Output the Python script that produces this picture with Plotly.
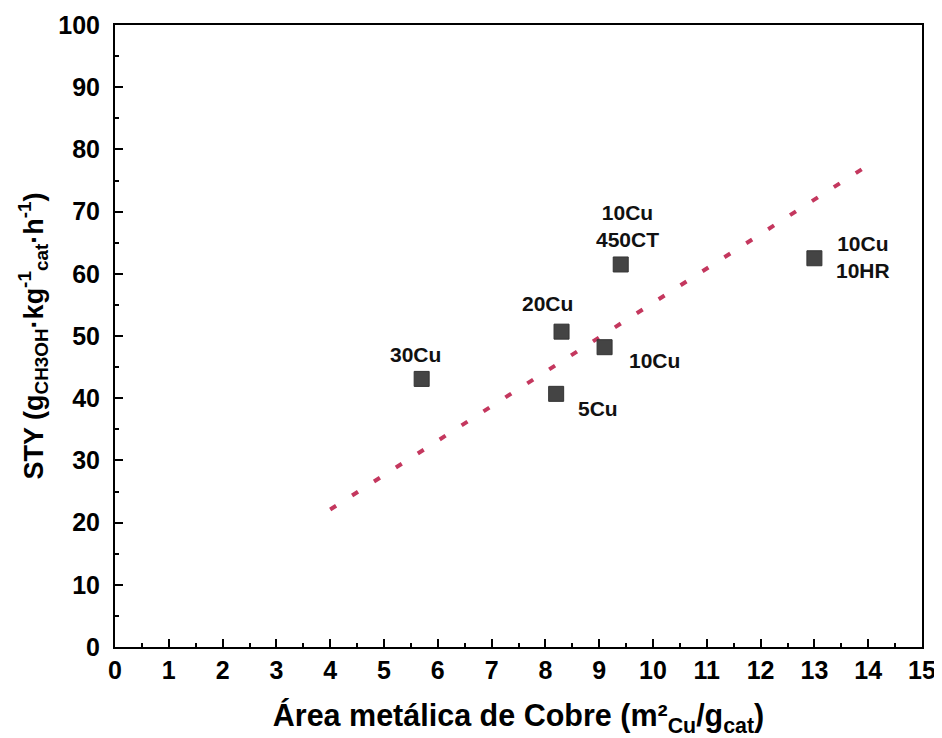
import plotly.graph_objects as go

# Data
samples = ["30Cu", "5Cu", "20Cu", "10Cu", "10Cu<br>450CT", "10Cu<br>10HR"]
cu_area = [5.7, 8.2, 8.3, 9.1, 9.4, 13.0]
sty = [43.1, 40.7, 50.7, 48.2, 61.5, 62.5]
# label offsets (pixels) relative to each point
label_dx = [-6, 42, -14, 50, 7, 49]
label_dy = [-24, 15, -28, 13, -38, -1]

trend_x = [4.0, 13.88]
trend_y = [22.1, 76.8]

x_ticks = list(range(0, 16))
y_ticks = list(range(0, 101, 10))

FONT = "Liberation Sans"

fig = go.Figure()
fig.add_trace(go.Scatter(
    x=trend_x, y=trend_y, mode="lines",
    line=dict(color="#C4375E", width=4, dash="7px,19px"),
    hoverinfo="skip", showlegend=False))
fig.add_trace(go.Scatter(
    x=cu_area, y=sty, mode="markers",
    marker=dict(symbol="square", size=15, color="#444444",
                line=dict(color="#333333", width=1)),
    showlegend=False))

for s, x, y, dx, dy in zip(samples, cu_area, sty, label_dx, label_dy):
    fig.add_annotation(x=x, y=y, text=s, showarrow=False,
                       xshift=dx, yshift=-dy,
                       font=dict(family=FONT, size=21, color="#111111", weight="bold"),
                       align="center")

axis_common = dict(
    showline=True, linecolor="black", linewidth=2, mirror=True,
    ticks="inside", ticklen=8, tickwidth=2, tickcolor="black",
    showgrid=False, zeroline=False, automargin=False,
    tickfont=dict(family=FONT, size=25, color="black", weight="bold"),
)

fig.update_xaxes(
    range=[0, 15], tickvals=x_ticks, ticktext=[str(t) for t in x_ticks],
    minor=dict(ticks="inside", ticklen=4, tickwidth=2, tickcolor="black", dtick=0.5, showgrid=False),
    title=dict(text="Área metálica de Cobre (m²<sub>Cu</sub>/g<sub>cat</sub>)",
               font=dict(family=FONT, size=30.5, color="black", weight="bold"), standoff=22),
    **axis_common)
fig.update_yaxes(
    range=[0, 100], tickvals=y_ticks, ticktext=[str(t) for t in y_ticks],
    ticklabelstandoff=8,
    minor=dict(ticks="inside", ticklen=4, tickwidth=2, tickcolor="black", dtick=5, showgrid=False),
    title=dict(text="STY (g<sub>CH3OH</sub>·kg<sup>-1</sup><sub>cat</sub>·h<sup>-1</sup>)",
               font=dict(family=FONT, size=27, color="black", weight="bold"), standoff=7),
    **axis_common)

fig.update_layout(
    width=934, height=730,
    margin=dict(l=107, r=20, t=17, b=91),
    paper_bgcolor="white", plot_bgcolor="white",
    showlegend=False,
)

fig.write_html("out.html")
